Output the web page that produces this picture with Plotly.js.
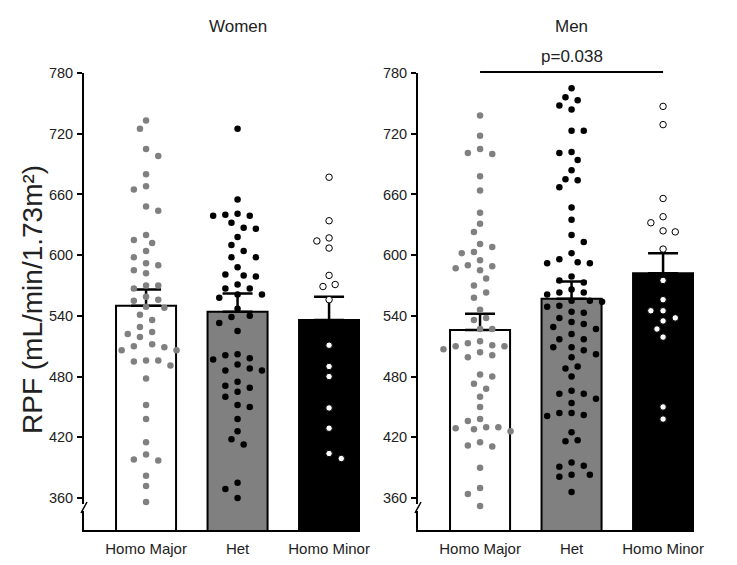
<!DOCTYPE html>
<html>
<head>
<meta charset="utf-8">
<script src="https://cdn.plot.ly/plotly-3.0.1.min.js"></script>
<style>html,body{margin:0;padding:0;background:#fff;}#chart{width:737px;height:565px;}</style>
</head>
<body>
<div id="chart"></div>
<script>
// ---------------- data ----------------
const categories = ['Homo Major', 'Het', 'Homo Minor'];
const panels = ['Women', 'Men'];
const yTicks = [360, 420, 480, 540, 600, 660, 720, 780];

const womenMeans = [550, 544, 536];
const womenSEM = [16, 18, 23];
const menMeans = [526, 557, 582];
const menSEM = [16, 17, 20];

const womenHomoMajor = [733, 725, 705, 698, 680, 668, 665, 648, 644, 620, 615, 612, 604, 598, 592, 590, 585, 582, 570, 570, 567, 559, 556, 555, 549, 548, 541, 536, 529, 524, 522, 519, 512, 510, 509, 506, 506, 496, 496, 495, 491, 478, 452, 438, 415, 403, 398, 397, 382, 372, 356];
const womenHet = [725, 655, 641, 640, 639, 639, 632, 627, 626, 618, 610, 604, 598, 598, 588, 581, 580, 579, 571, 567, 567, 561, 561, 558, 547, 540, 539, 533, 525, 502, 501, 498, 497, 492, 488, 486, 486, 475, 471, 469, 465, 460, 452, 450, 438, 426, 418, 413, 375, 369, 360];
const womenHomoMinor = [677, 634, 617, 614, 607, 580, 571, 569, 556, 511, 490, 480, 449, 429, 404, 399];

const menHomoMajor = [738, 718, 705, 701, 700, 678, 664, 642, 631, 623, 611, 608, 603, 602, 595, 590, 589, 587, 585, 577, 570, 563, 558, 546, 538, 536, 527, 527, 515, 513, 511, 510, 510, 507, 504, 501, 499, 482, 480, 473, 468, 460, 450, 438, 436, 430, 430, 429, 428, 426, 415, 412, 411, 390, 370, 364, 352];
const menHet = [765, 756, 753, 748, 744, 723, 723, 702, 701, 694, 684, 675, 674, 667, 647, 635, 620, 613, 602, 596, 593, 592, 592, 579, 575, 573, 566, 563, 563, 561, 555, 555, 554, 550, 549, 544, 543, 538, 534, 532, 529, 527, 522, 517, 517, 509, 509, 506, 502, 499, 490, 488, 480, 466, 463, 463, 458, 454, 444, 444, 442, 441, 425, 417, 416, 395, 392, 391, 383, 383, 381, 366];
const menHomoMinor = [747, 729, 656, 638, 632, 624, 623, 606, 575, 556, 545, 545, 538, 535, 527, 519, 450, 438];

const pLabel = 'p=0.038';
const yTitle = 'RPF (mL/min/1.73m\u00B2)';

// ---------------- layout helpers ----------------
const W = 737, H = 565;
const px = v => v / W;
const py = v => 1 - v / H;
const yRange = [328.4, 780];
const xRange = [-0.678, 2.338];
const plotTop = 73, plotBottom = 530;
const plotW = 276;
const pxPerX = plotW / (xRange[1] - xRange[0]);
const pxPerY = (plotBottom - plotTop) / (yRange[1] - yRange[0]);

// beeswarm offsets computed from values (no hand-typed positions)
function swarm(vals, center) {
  const step = 6.1, D = 9.5;
  const order = vals.map((v, i) => i).sort((a, b) => vals[b] - vals[a]);
  const placed = [];
  const xs = new Array(vals.length);
  let flip = 1;
  for (const i of order) {
    const yp = vals[i] * pxPerY;
    for (let m = 0; m < 60; m++) {
      let k = m === 0 ? 0 : Math.ceil(m / 2) * (m % 2 ? -flip : flip);
      const ok = placed.every(p => {
        const dx = (p.k - k) * step, dy = p.y - yp;
        return dx * dx + dy * dy >= D * D;
      });
      if (ok) { placed.push({k: k, y: yp}); xs[i] = center + k * step / pxPerX; if (k !== 0) flip = -flip; break; }
    }
  }
  return xs;
}

const barColors = ['#ffffff', '#808080', '#000000'];
const FONT = 'Arial, "Liberation Sans", sans-serif';

function barTrace(means, sem, xa, ya) {
  return {
    type: 'bar', x: [0, 1, 2], y: means, xaxis: xa, yaxis: ya, width: 0.656,
    marker: {color: barColors, line: {color: '#000', width: 2}},
    error_y: {type: 'data', array: sem, arrayminus: [0, 0, 0], symmetric: false, color: '#000', thickness: 2.5, width: 15},
    showlegend: false, hoverinfo: 'skip'
  };
}
function dotTrace(vals, idx, xa, ya) {
  const styles = [
    {color: '#808080', size: 6.5, line: {width: 0}},
    {color: '#000000', size: 6.5, line: {width: 0}},
    {color: '#ffffff', size: 6.5, line: {color: '#000', width: 1}}
  ];
  return {
    type: 'scatter', mode: 'markers', x: swarm(vals, idx), y: vals, xaxis: xa, yaxis: ya,
    marker: styles[idx], showlegend: false, hoverinfo: 'y', cliponaxis: false
  };
}

const data = [
  barTrace(womenMeans, womenSEM, 'x', 'y'),
  dotTrace(womenHomoMajor, 0, 'x', 'y'),
  dotTrace(womenHet, 1, 'x', 'y'),
  dotTrace(womenHomoMinor, 2, 'x', 'y'),
  barTrace(menMeans, menSEM, 'x2', 'y2'),
  dotTrace(menHomoMajor, 0, 'x2', 'y2'),
  dotTrace(menHet, 1, 'x2', 'y2'),
  dotTrace(menHomoMinor, 2, 'x2', 'y2')
];

function xAxis(d0) {
  return {
    domain: [px(d0), px(d0 + plotW)], range: xRange, showline: true, linewidth: 2, linecolor: '#000',
    ticks: '', tickvals: [0, 1, 2], ticktext: categories, showgrid: false, zeroline: false,
    tickfont: {family: FONT, size: 15, color: '#222'}, ticklabelstandoff: 4, fixedrange: true
  };
}
function yAxis(anchor) {
  return {
    domain: [py(plotBottom), py(plotTop)], range: yRange, anchor: anchor, showline: true, linewidth: 2, linecolor: '#000',
    ticks: 'outside', ticklen: 5, tickwidth: 2, tickcolor: '#000', tickvals: yTicks, showgrid: false, zeroline: false,
    tickfont: {family: FONT, size: 14.5, color: '#222'}, ticklabelstandoff: 1, fixedrange: true
  };
}

function breakShapes(ax) {
  return [
    {type: 'rect', xref: 'paper', yref: 'paper', x0: px(ax - 3), x1: px(ax + 3), y0: py(511), y1: py(504), fillcolor: '#fff', line: {width: 0}, layer: 'above'},
    {type: 'line', xref: 'paper', yref: 'paper', x0: px(ax - 3), x1: px(ax + 3), y0: py(513), y1: py(502), line: {color: '#000', width: 1.5}, layer: 'above'}
  ];
}

function note(text, xref, x, yPix, size, extra) {
  return Object.assign({text: text, xref: xref, yref: 'paper', x: x, y: py(yPix), xanchor: 'center', yanchor: 'middle',
    showarrow: false, font: {family: FONT, size: size, color: '#222'}}, extra || {});
}

const layout = {
  width: W, height: H, margin: {l: 0, r: 0, t: 0, b: 0},
  paper_bgcolor: '#fff', plot_bgcolor: 'rgba(0,0,0,0)', showlegend: false,
  font: {family: FONT, color: '#222'},
  xaxis: xAxis(84), yaxis: yAxis('x'),
  xaxis2: xAxis(418), yaxis2: yAxis('x2'),
  shapes: [
    {type: 'line', xref: 'x2', yref: 'paper', x0: 0, x1: 2, y0: py(72), y1: py(72), line: {color: '#000', width: 2}}
  ].concat(breakShapes(84), breakShapes(418)),
  annotations: [
    note(panels[0], 'x', 1, 27, 17),
    note(panels[1], 'x2', 1, 27, 17),
    note(pLabel, 'x2', 1, 56, 17),
    note(yTitle, 'paper', px(32), 300, 28, {textangle: -90})
  ]
};

Plotly.newPlot('chart', data, layout, {staticPlot: true, displayModeBar: false});
</script>
</body>
</html>
